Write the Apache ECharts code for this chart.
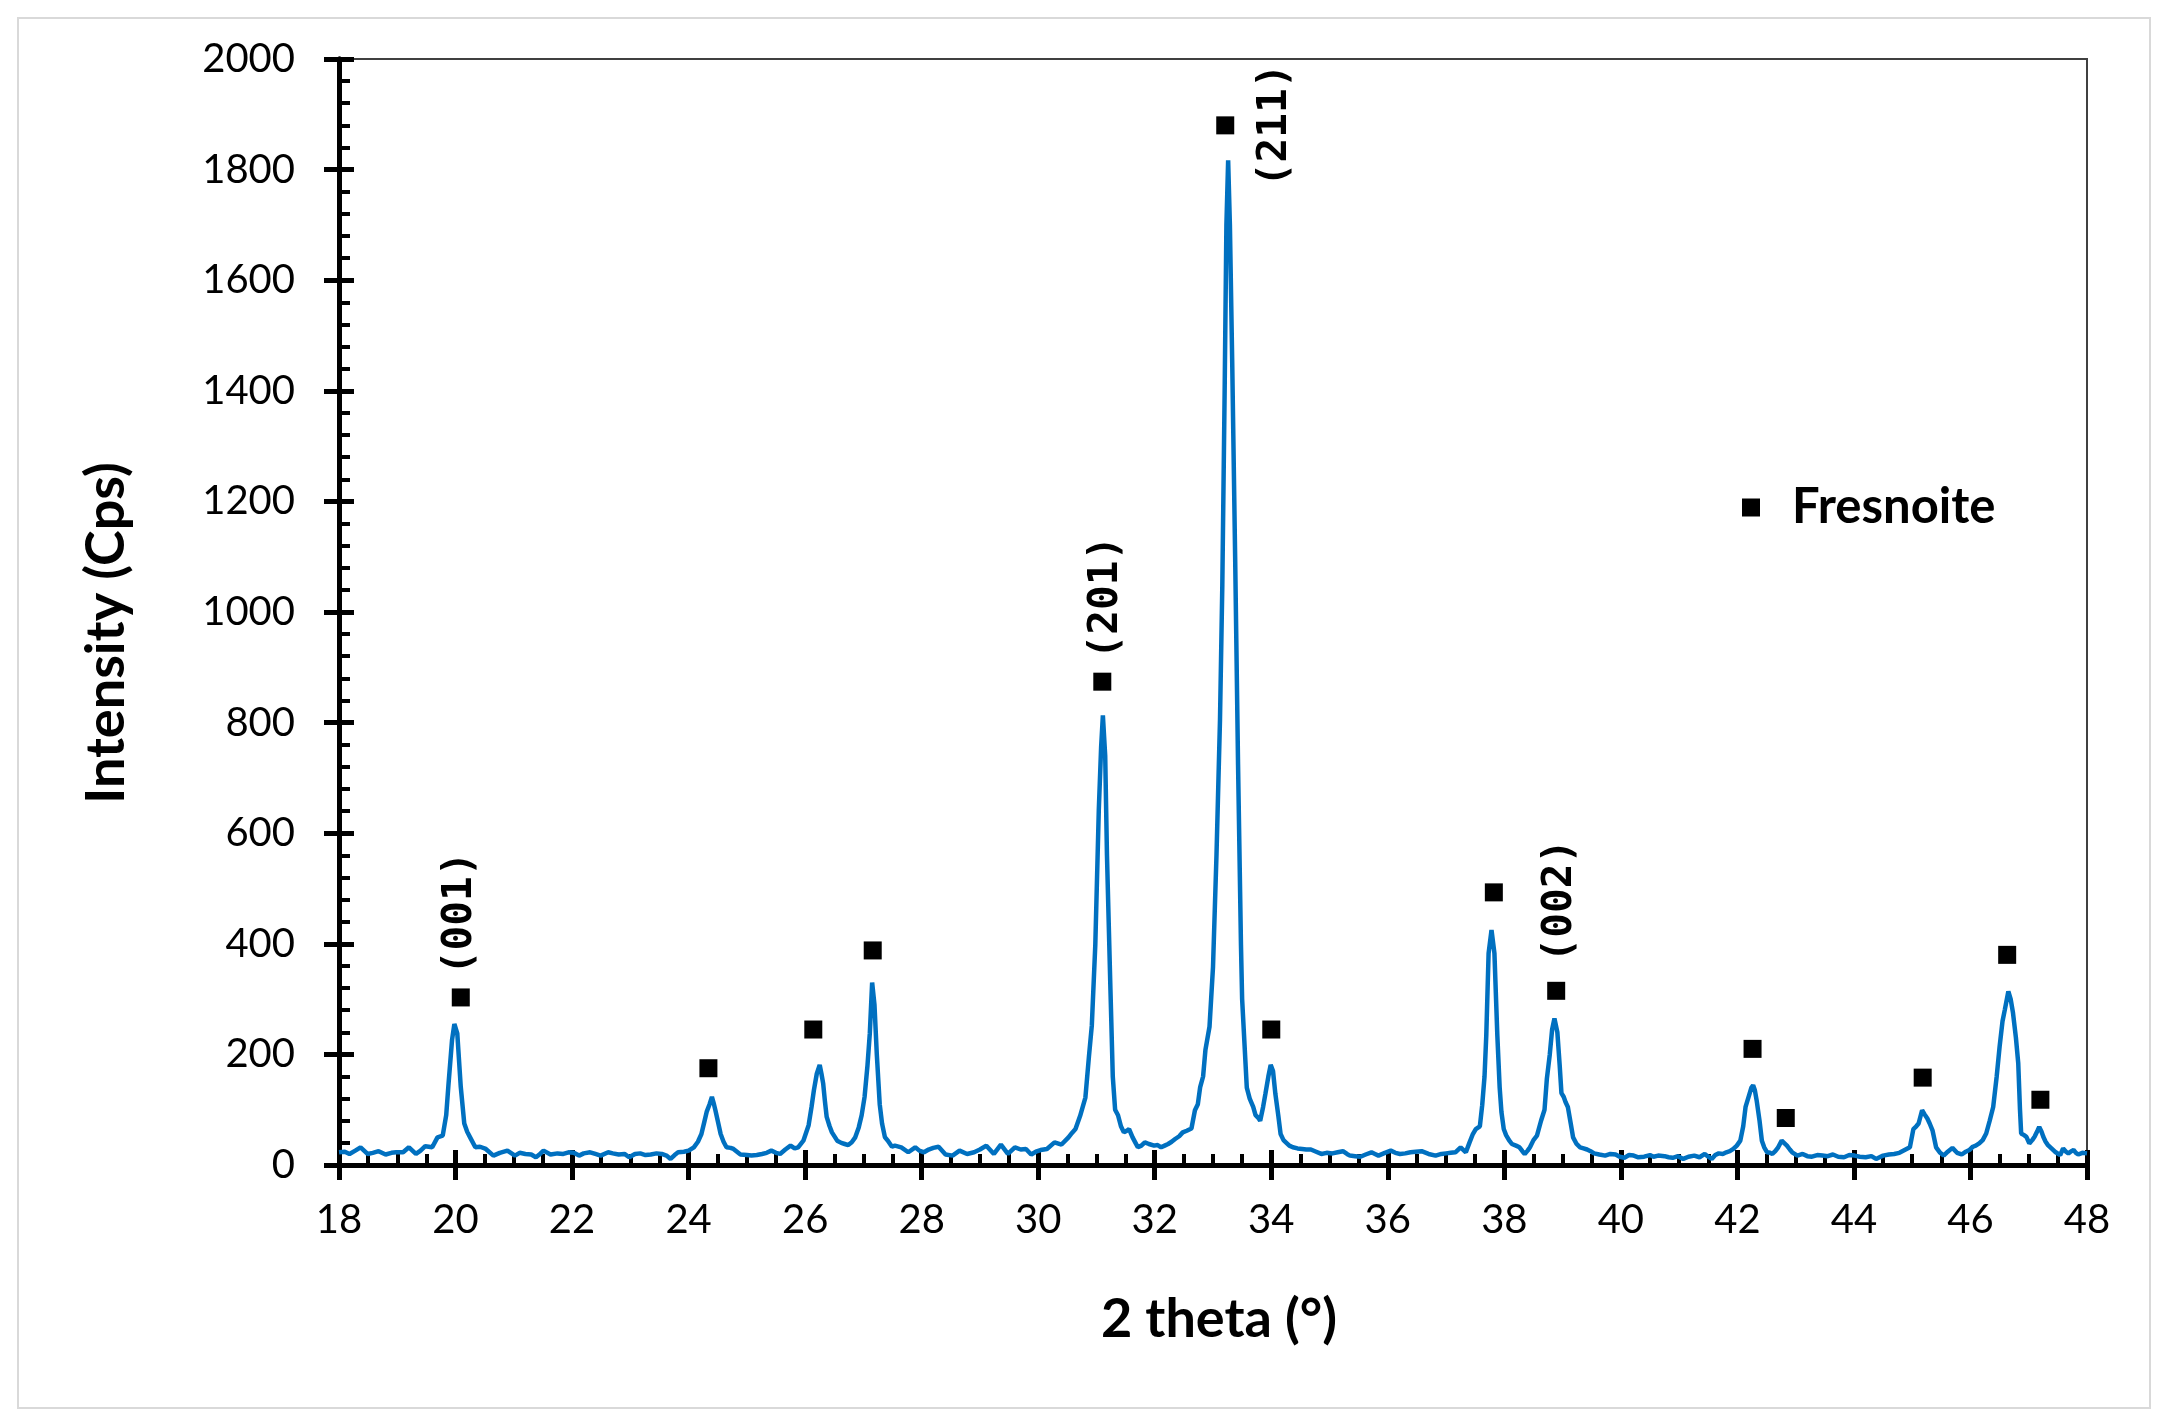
<!DOCTYPE html>
<html>
<head>
<meta charset="utf-8">
<script src="https://cdn.jsdelivr.net/npm/echarts@6/dist/echarts.min.js"></script>
<style>
  html, body { margin: 0; padding: 0; background: #fff; }
  #chart { width: 2169px; height: 1426px; }
</style>
</head>
<body>
<div id="chart"></div>
<script>
// 2 theta (deg) and intensity (cps)
const twoTheta = [
  18.00, 18.10, 18.18, 18.28, 18.37, 18.49, 18.58, 18.68, 18.80, 18.90, 18.98, 19.10, 19.20, 19.32, 19.40, 19.48,
  19.60, 19.69, 19.78, 19.84, 19.88, 19.94, 19.98, 20.03, 20.09, 20.15, 20.20, 20.25, 20.34, 20.42, 20.52, 20.65,
  20.76, 20.89, 21.02, 21.10, 21.20, 21.30, 21.38, 21.45, 21.51, 21.63, 21.75, 21.85, 21.94, 22.03, 22.12, 22.20,
  22.31, 22.40, 22.49, 22.62, 22.70, 22.80, 22.90, 22.98, 23.08, 23.17, 23.26, 23.35, 23.45, 23.54, 23.62, 23.69,
  23.76, 23.82, 23.92, 24.00, 24.09, 24.16, 24.22, 24.27, 24.31, 24.36, 24.40, 24.43, 24.46, 24.50, 24.55, 24.60,
  24.65, 24.72, 24.77, 24.83, 24.89, 25.00, 25.08, 25.17, 25.26, 25.34, 25.42, 25.50, 25.57, 25.66, 25.75, 25.82,
  25.88, 25.97, 26.06, 26.11, 26.15, 26.20, 26.25, 26.28, 26.31, 26.34, 26.37, 26.42, 26.46, 26.55, 26.62, 26.68,
  26.74, 26.80, 26.86, 26.92, 26.97, 27.02, 27.07, 27.11, 27.15, 27.19, 27.23, 27.28, 27.32, 27.37, 27.42, 27.49,
  27.54, 27.65, 27.77, 27.89, 27.96, 28.04, 28.12, 28.20, 28.29, 28.41, 28.53, 28.65, 28.78, 28.90, 29.00, 29.11,
  29.24, 29.36, 29.48, 29.60, 29.70, 29.79, 29.88, 29.96, 30.04, 30.15, 30.28, 30.40, 30.52, 30.58, 30.64, 30.72,
  30.81, 30.87, 30.92, 30.98, 31.04, 31.08, 31.11, 31.15, 31.18, 31.24, 31.28, 31.32, 31.37, 31.42, 31.47, 31.52,
  31.56, 31.62, 31.67, 31.71, 31.77, 31.83, 31.90, 31.99, 32.05, 32.11, 32.17, 32.23, 32.29, 32.35, 32.42, 32.48,
  32.55, 32.63, 32.69, 32.74, 32.78, 32.83, 32.87, 32.94, 33.00, 33.06, 33.12, 33.16, 33.20, 33.23, 33.26, 33.29,
  33.33, 33.38, 33.43, 33.48, 33.50, 33.54, 33.58, 33.63, 33.69, 33.73, 33.78, 33.81, 33.86, 33.90, 33.95, 33.99,
  34.03, 34.07, 34.12, 34.16, 34.21, 34.25, 34.31, 34.37, 34.45, 34.53, 34.60, 34.68, 34.77, 34.86, 34.95, 35.05,
  35.14, 35.23, 35.30, 35.35, 35.44, 35.53, 35.62, 35.72, 35.78, 35.84, 35.95, 36.05, 36.13, 36.21, 36.30, 36.39,
  36.48, 36.58, 36.70, 36.82, 36.92, 37.00, 37.08, 37.16, 37.25, 37.34, 37.40, 37.46, 37.51, 37.58, 37.62, 37.66,
  37.69, 37.73, 37.78, 37.83, 37.88, 37.92, 37.95, 37.99, 38.03, 38.08, 38.13, 38.20, 38.26, 38.31, 38.35, 38.40,
  38.44, 38.50, 38.56, 38.63, 38.69, 38.73, 38.78, 38.82, 38.86, 38.91, 38.95, 38.98, 39.02, 39.05, 39.09, 39.14,
  39.18, 39.24, 39.30, 39.36, 39.42, 39.48, 39.54, 39.63, 39.73, 39.82, 39.91, 39.98, 40.06, 40.14, 40.22, 40.30,
  40.40, 40.50, 40.56, 40.64, 40.75, 40.82, 40.89, 40.98, 41.07, 41.16, 41.26, 41.35, 41.44, 41.50, 41.56, 41.62,
  41.68, 41.75, 41.81, 41.87, 41.93, 41.99, 42.05, 42.10, 42.14, 42.20, 42.24, 42.27, 42.30, 42.33, 42.38, 42.42,
  42.46, 42.51, 42.56, 42.60, 42.65, 42.70, 42.76, 42.80, 42.85, 42.90, 42.94, 43.03, 43.12, 43.20, 43.28, 43.37,
  43.46, 43.55, 43.64, 43.73, 43.83, 43.92, 44.01, 44.10, 44.20, 44.30, 44.38, 44.44, 44.50, 44.60, 44.69, 44.78,
  44.87, 44.96, 45.02, 45.07, 45.11, 45.17, 45.21, 45.26, 45.30, 45.35, 45.41, 45.48, 45.54, 45.61, 45.69, 45.77,
  45.85, 45.92, 45.98, 46.04, 46.09, 46.15, 46.21, 46.27, 46.33, 46.39, 46.45, 46.50, 46.55, 46.59, 46.65, 46.69,
  46.73, 46.78, 46.82, 46.85, 46.87, 46.92, 46.96, 47.01, 47.06, 47.10, 47.15, 47.18, 47.22, 47.25, 47.29, 47.33,
  47.39, 47.45, 47.54, 47.59, 47.64, 47.68, 47.73, 47.77, 47.81, 47.85, 47.92, 48.00
]
const intensity = [
  23, 24, 20, 26, 32, 20, 22, 25, 19, 22, 23, 23, 32, 20, 26, 34,
  32, 50, 53, 90, 147, 226, 255, 238, 141, 75, 60, 50, 32, 33, 29, 17,
  22, 26, 17, 22, 20, 19, 14, 20, 26, 19, 21, 20, 23, 22, 17, 21,
  23, 20, 17, 23, 21, 19, 20, 14, 20, 21, 18, 19, 21, 20, 17, 11,
  18, 23, 24, 26, 32, 42, 56, 78, 96, 110, 123, 112, 99, 80, 56, 42,
  32, 31, 29, 24, 19, 18, 17, 18, 20, 22, 26, 22, 20, 28, 35, 30,
  32, 44, 72, 105, 135, 165, 181, 165, 147, 115, 87, 70, 59, 44, 40, 38,
  36, 41, 50, 68, 90, 123, 180, 238, 330, 290, 200, 110, 75, 50, 44, 33,
  35, 32, 23, 32, 26, 23, 28, 31, 33, 19, 17, 26, 20, 23, 28, 35,
  20, 37, 20, 32, 28, 29, 19, 24, 27, 29, 41, 37, 50, 58, 65, 89,
  122, 195, 252, 398, 642, 756, 813, 740, 561, 317, 160, 100, 90, 70, 59, 62,
  65, 50, 40, 32, 35, 41, 38, 35, 36, 32, 35, 38, 42, 47, 52, 59,
  62, 66, 99, 110, 141, 160, 208, 250, 358, 561, 805, 1049, 1400, 1700, 1817, 1700,
  1450, 1100, 724, 398, 300, 220, 140, 120, 105, 90, 85, 80, 105, 129, 160, 181,
  170, 129, 90, 56, 45, 41, 35, 32, 30, 29, 28, 28, 24, 20, 22, 21,
  23, 25, 20, 17, 16, 15, 19, 23, 20, 17, 22, 26, 22, 20, 21, 23,
  24, 25, 20, 17, 20, 21, 22, 23, 32, 23, 40, 56, 65, 70, 108, 160,
  234, 383, 425, 383, 234, 140, 96, 65, 54, 45, 38, 35, 32, 25, 20, 26,
  32, 45, 53, 80, 100, 156, 200, 245, 265, 240, 180, 130, 123, 114, 105, 75,
  50, 38, 32, 30, 28, 25, 21, 19, 17, 20, 19, 15, 13, 18, 17, 14,
  15, 18, 15, 17, 16, 14, 13, 16, 11, 15, 17, 14, 20, 15, 11, 18,
  21, 20, 23, 25, 29, 35, 44, 70, 105, 126, 140, 144, 135, 117, 80, 44,
  32, 23, 22, 20, 25, 32, 44, 40, 35, 28, 23, 17, 20, 16, 15, 18,
  17, 16, 19, 15, 14, 18, 17, 15, 14, 16, 11, 14, 17, 19, 20, 22,
  27, 32, 65, 70, 75, 99, 92, 84, 75, 62, 32, 22, 17, 24, 31, 22,
  19, 24, 27, 33, 35, 39, 45, 57, 80, 105, 160, 214, 260, 281, 314, 300,
  275, 230, 184, 100, 57, 54, 51, 39, 45, 51, 62, 69, 60, 51, 42, 36,
  30, 24, 18, 30, 24, 21, 25, 27, 22, 19, 22, 21
]

// Fresnoite markers
const markerTheta = [20.09, 24.34, 26.14, 27.16, 31.10, 33.21, 34.00, 37.82, 38.89, 42.26, 42.83, 45.18, 46.63, 47.20]
const markerIntensity = [303, 175, 245, 388, 874, 1880, 245, 493, 315, 210, 85, 158, 380, 118]

// plane labels
const planeLabels = ['(001)', '(201)', '(211)', '(002)']
const planeTheta = [20.09, 31.17, 34.07, 38.96]
const planeIntensity = [455, 1026, 1880, 478]

const xMin = 18, xMax = 48, xStep = 2
const yMin = 0, yMax = 2000, yStep = 200

const pattern = twoTheta.map((t, i) => [t, intensity[i]])
const markers = markerTheta.map((t, i) => [t, markerIntensity[i]])
const planes = planeTheta.map((t, i) => ({ value: [t, planeIntensity[i]], name: planeLabels[i] }))

const font = 'Lato, "Open Sans", sans-serif'
const black = '#000'

const chart = echarts.init(document.getElementById('chart'))

// two axes per side so the major ticks cross the axis line
const xBase = {
  type: 'value', min: xMin, max: xMax, interval: xStep, position: 'bottom',
  splitLine: { show: false }
}
const yBase = {
  type: 'value', min: yMin, max: yMax, interval: yStep, position: 'left',
  splitLine: { show: false }
}

const option = {
  animation: false,
  backgroundColor: '#fff',
  grid: {
    left: 339, right: 82, top: 59, bottom: 261,
    show: true, borderColor: '#404040', borderWidth: 2, backgroundColor: 'transparent'
  },
  graphic: [{
    type: 'rect',
    shape: { x: 18, y: 18, width: 2132, height: 1390 },
    style: { fill: 'none', stroke: '#d9d9d9', lineWidth: 2 },
    silent: true, z: -1
  }],
  legend: {
    data: ['Fresnoite'],
    left: 1737, top: 478,
    icon: 'rect', itemWidth: 18, itemHeight: 18,
    itemStyle: { opacity: 1 },
    textStyle: { fontFamily: font, fontWeight: 'bold', fontSize: 49, color: black, padding: [0, 0, 0, 27] }
  },
  xAxis: [
    Object.assign({}, xBase, {
      name: '2 theta (°)', nameLocation: 'middle', nameGap: 128,
      nameTextStyle: { fontFamily: font, fontWeight: 'bold', fontSize: 54, color: black, padding: [0, 0, 0, 12] },
      axisLine: { onZero: false, lineStyle: { color: black, width: 5 } },
      axisTick: { inside: false, length: 15, lineStyle: { color: black, width: 5 } },
      axisLabel: { margin: 35, fontFamily: font, fontSize: 40, color: black }
    }),
    Object.assign({}, xBase, {
      axisLine: { onZero: false, lineStyle: { color: black, width: 5 } },
      axisTick: { inside: true, length: 15, lineStyle: { color: black, width: 5 } },
      minorTick: { show: true, splitNumber: 4, length: 11, lineStyle: { color: black, width: 4 } },
      axisLabel: { show: false }
    })
  ],
  yAxis: [
    Object.assign({}, yBase, {
      name: 'Intensity (Cps)', nameLocation: 'middle', nameRotate: 90, nameGap: 205,
      nameTextStyle: { fontFamily: font, fontWeight: 'bold', fontSize: 54, color: black, padding: [0, 42, 0, 0] },
      axisLine: { onZero: false, lineStyle: { color: black, width: 5 } },
      axisTick: { inside: false, length: 15, lineStyle: { color: black, width: 5 } },
      axisLabel: { margin: 44, fontFamily: font, fontSize: 40, color: black, formatter: (v) => String(v) }
    }),
    Object.assign({}, yBase, {
      axisLine: { onZero: false, lineStyle: { color: black, width: 5 } },
      axisTick: { inside: true, length: 15, lineStyle: { color: black, width: 5 } },
      minorTick: { show: true, splitNumber: 5, length: 11, lineStyle: { color: black, width: 4 } },
      axisLabel: { show: false }
    })
  ],
  series: [
    {
      name: 'pattern',
      type: 'line',
      data: pattern,
      showSymbol: false,
      lineStyle: { color: '#0070c0', width: 4.5 },
      z: 3
    },
    {
      name: 'Fresnoite',
      type: 'scatter',
      data: markers,
      symbol: 'rect',
      symbolSize: 18,
      itemStyle: { color: black, opacity: 1 },
      z: 4
    },
    {
      name: 'planes',
      type: 'scatter',
      data: planes,
      symbolSize: 0,
      itemStyle: { opacity: 1 },
      label: {
        show: true,
        position: 'inside',
        rotate: 90,
        formatter: '{b}',
        fontFamily: '"DejaVu Sans Mono", monospace',
        fontWeight: 'bold',
        fontSize: 41,
        color: black
      },
      z: 4
    }
  ]
}

chart.setOption(option)
</script>
</body>
</html>
